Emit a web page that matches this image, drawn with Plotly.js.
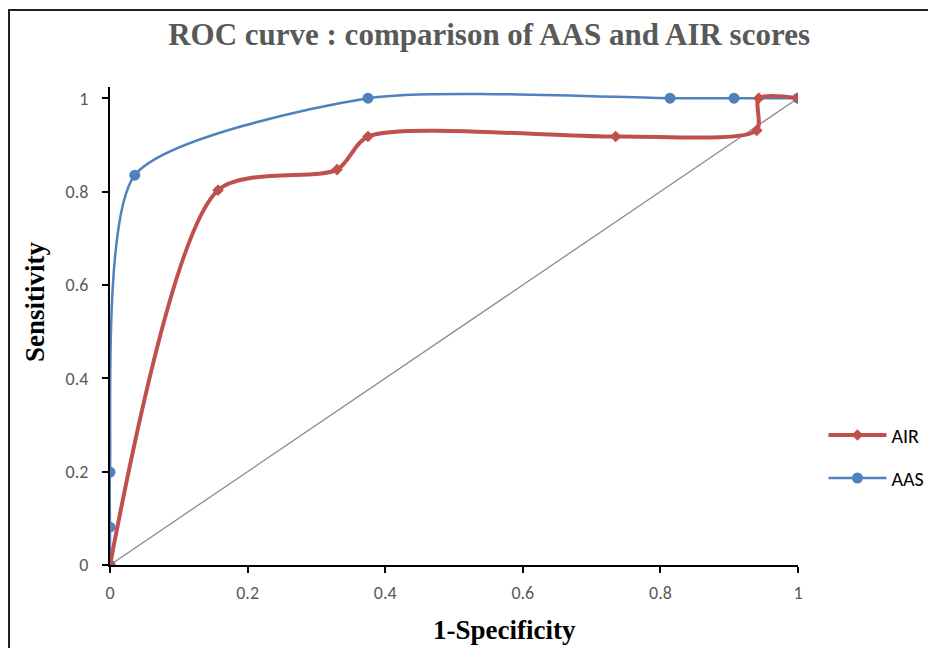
<!DOCTYPE html>
<html>
<head>
<meta charset="utf-8">
<script src="https://cdn.plot.ly/plotly-3.0.1.min.js"></script>
<style>
html,body{margin:0;padding:0;background:#fff;overflow:hidden;}
#wrap{position:relative;width:928px;height:648px;overflow:hidden;}
#chart{position:absolute;left:0;top:0;width:928px;height:648px;}
#frame{position:absolute;left:8px;top:9px;width:1000px;height:700px;border:2px solid #222;pointer-events:none;box-sizing:border-box;}
</style>
</head>
<body>
<div id="wrap"><div id="chart"></div><div id="frame"></div></div>
<script>
// Data
const airX = [0, 0.157, 0.33, 0.375, 0.735, 0.94, 0.943, 1];
const airY = [0, 0.803, 0.847, 0.918, 0.918, 0.931, 1.0, 1];
const aasX = [0, 0, 0, 0.036, 0.375, 0.814, 0.907, 1];
const aasY = [0, 0.081, 0.199, 0.835, 1, 1, 1, 1];
const diagX = [0, 1];
const diagY = [0, 1];
const tickVals = [0, 0.2, 0.4, 0.6, 0.8, 1];
const tickText = ['0', '0.2', '0.4', '0.6', '0.8', '1'];

const traces = [
  {x: diagX, y: diagY, mode: 'lines', line: {color: '#8c8c8c', width: 1.3}, showlegend: false, hoverinfo: 'skip'},
  {x: aasX, y: aasY, name: 'AAS', legend: 'legend2', mode: 'lines+markers', line: {color: '#4F81BD', width: 2.5, shape: 'spline', smoothing: 0.65},
   marker: {symbol: 'circle', size: 11, color: '#4F81BD'}},
  {x: airX, y: airY, name: 'AIR', legend: 'legend', mode: 'lines+markers', line: {color: '#C0504D', width: 4, shape: 'spline', smoothing: 0.75},
   marker: {symbol: 'diamond', size: 9, color: '#C0504D'}}
];

const legFont = {family: 'Carlito, Calibri, Liberation Sans, sans-serif', size: 20, color: '#000'};
const serifBold = {family: 'Liberation Serif, Times New Roman, serif', size: 27, color: '#000', weight: 'bold'};
const tickFont = {family: 'Carlito, Calibri, Liberation Sans, sans-serif', size: 18, color: '#595959'};

const layout = {
  width: 928, height: 648,
  paper_bgcolor: '#ffffff', plot_bgcolor: '#ffffff',
  margin: {l: 110, r: 130, t: 87, b: 83, autoexpand: false},
  title: {text: 'ROC curve : comparison of AAS and AIR scores', x: 0.527, xanchor: 'center', y: 0.947, yanchor: 'middle',
    font: {family: 'Liberation Serif, Times New Roman, serif', size: 31, color: '#595959', weight: 'bold'}},
  xaxis: {range: [0, 1], tickvals: tickVals, ticktext: tickText, showgrid: false, zeroline: false,
    showline: true, linecolor: '#000', linewidth: 2, ticks: 'outside', ticklen: 6, tickwidth: 2, tickcolor: '#000',
    ticklabelstandoff: 4, tickfont: tickFont},
  yaxis: {range: [0, 1.024], tickvals: tickVals, ticktext: tickText, showgrid: false, zeroline: false,
    showline: true, linecolor: '#000', linewidth: 2, ticks: 'outside', ticklen: 6, tickwidth: 2, tickcolor: '#000',
    ticklabelstandoff: 10, tickfont: tickFont},
  annotations: [
    {text: '1-Specificity', xref: 'paper', yref: 'paper', x: (504 - 110) / 688, y: -(630 - 565) / 478,
     xanchor: 'center', yanchor: 'middle', showarrow: false, font: serifBold},
    {text: 'Sensitivity', xref: 'paper', yref: 'paper', x: -(110 - 35) / 688, y: (565 - 302) / 478,
     xanchor: 'center', yanchor: 'middle', textangle: -90, showarrow: false, font: serifBold}
  ],
  legend: {x: 1.037, y: (565 - 435) / 478, xanchor: 'left', yanchor: 'middle', font: legFont, itemwidth: 58, bgcolor: 'rgba(0,0,0,0)'},
  legend2: {x: 1.037, y: (565 - 478) / 478, xanchor: 'left', yanchor: 'middle', font: legFont, itemwidth: 58, bgcolor: 'rgba(0,0,0,0)'},
  showlegend: true
};

Plotly.newPlot('chart', traces, layout, {displayModeBar: false, staticPlot: true});
</script>
</body>
</html>
